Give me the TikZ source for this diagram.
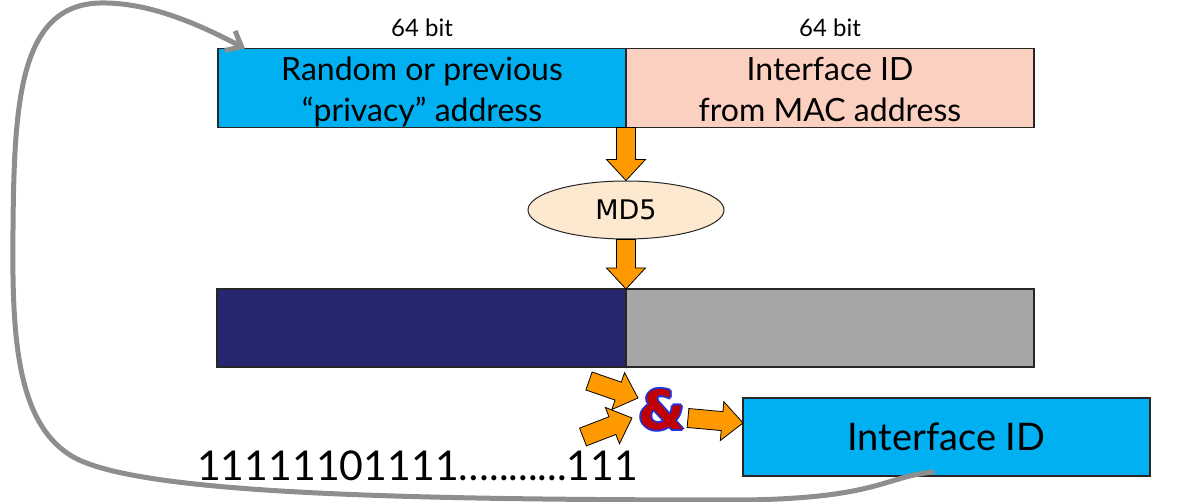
\documentclass[tikz,border=0pt]{standalone}
\usepackage{fontspec}
\setmainfont{Lato}
\newfontfamily\hashfont{DejaVu Sans}
\usetikzlibrary{shapes.geometric,arrows.meta,positioning,calc}
\definecolor{boxcyan}{HTML}{00B0F0}
\definecolor{boxpeach}{HTML}{FBD0C0}
\definecolor{boxnavy}{HTML}{262671}
\definecolor{boxgray}{HTML}{A6A6A6}
\definecolor{md5fill}{HTML}{FDE9D0}
\definecolor{arroworange}{HTML}{FF9900}
\definecolor{loopgray}{HTML}{8E8E8E}
\definecolor{ampred}{HTML}{C00000}
\definecolor{ampblue}{HTML}{2233DD}

% thick orange block arrow from #1 to #2
\newcommand{\fatarrow}[2]{%
  \path (#1) coordinate (fa-a) (#2) coordinate (fa-b);
  \path ($(fa-b)!21pt!(fa-a)$) coordinate (fa-h);
  \filldraw[blockarrow]
    ($(fa-a)!9.5pt!90:(fa-b)$) -- ($(fa-h)!9.5pt!90:(fa-b)$)
    -- ($(fa-h)!19.5pt!90:(fa-b)$) -- (fa-b)
    -- ($(fa-h)!19.5pt!-90:(fa-b)$) -- ($(fa-h)!9.5pt!-90:(fa-b)$)
    -- ($(fa-a)!9.5pt!-90:(fa-b)$) -- cycle;
}

\begin{document}
\begin{tikzpicture}[x=1pt, y=-1pt,
  field/.style={rectangle, draw=black!85, line width=1.2pt, outer sep=0pt, inner sep=0pt, minimum height=79pt, align=center, font=\fontsize{32}{41}\selectfont},
  twoline/.style={field, text height=73pt, text depth=6pt},
  bitlabel/.style={font=\fontsize{24}{28}\selectfont, inner sep=0pt},
  blockarrow/.style={fill=arroworange, draw=black, line width=0.8pt, line join=miter},
  ampsign/.style={font=\hashfont\fontsize{54}{54}\selectfont\bfseries, inner sep=0pt},
  loopline/.style={draw=loopgray, line width=5pt, -{Straight Barb[length=13pt,width=22pt]}}
]
  \useasboundingbox (0,0) rectangle (1179,502);

  % input: prefix part and interface part
  \node[twoline, fill=boxcyan, minimum width=408pt] (rnd) at (422,88) {Random or previous\\``privacy'' address};
  \node[twoline, fill=boxpeach, minimum width=408pt, right=0pt of rnd] (mac) {Interface ID\\from MAC address};
  \node[bitlabel, above=12pt of rnd] (bitl) {64 bit};
  \node[bitlabel, above=12pt of mac] (bitr) {64 bit};

  % hash
  \node[ellipse, draw=black!85, line width=1pt, fill=md5fill, minimum width=196pt, minimum height=58pt, inner sep=0pt, font=\hashfont\fontsize{27}{27}\selectfont] (md5) at (626,210) {MD5};

  % hash output halves
  \node[field, fill=boxnavy, minimum width=409pt, minimum height=78pt] (hashl) at (421.5,328) {};
  \node[field, fill=boxgray, minimum width=408pt, minimum height=78pt, right=0pt of hashl] (hashr) {};

  % result
  \node[field, fill=boxcyan, minimum width=407pt, minimum height=78pt, font=\fontsize{38}{38}\selectfont] (iid) at (946.5,437) {Interface ID};

  % and-mask
  \foreach \dx/\dy [count=\k] in {-1.8/0,1.8/0,0/-1.8,0/1.8,-1.3/-1.3,1.3/1.3,-1.3/1.3,1.3/-1.3}
    \node[ampsign, text=ampblue] (ampedge\k) at (662+\dx,410+\dy) {\&};
  \node[ampsign, text=ampred] (amp) at (662,410) {\&};
  \node[anchor=base west, inner sep=0pt, font=\fontsize{41}{41}\selectfont] (ones) at (197,481) {11111101111…........111};

  % orange arrows
  \coordinate (intail) at (589,381);
  \coordinate (intip) at (638,398);
  \coordinate (masktail) at (583,437);
  \coordinate (masktip) at (632,418);
  \coordinate (outtail) at (688,418);
  \fatarrow{rnd.south east}{md5.north}
  \fatarrow{md5.south}{hashl.north east}
  \fatarrow{intail}{intip}
  \fatarrow{masktail}{masktip}
  \fatarrow{outtail}{$(iid.west)+(0,-14)$}

  % feed back as next random value
  \draw[loopline] ($(iid.south)+(-12,-4)$)
    .. controls (885,476) and (880,498) .. (745,500)
    .. controls (400,500) and (130,494) .. (70,455)
    .. controls (15,420) and (12,330) .. (13,230)
    .. controls (14,100) and (20,5) .. (100,3)
    .. controls (150,2) and (200,25) .. ($(rnd.north west)+(27,0)$);
\end{tikzpicture}
\end{document}
